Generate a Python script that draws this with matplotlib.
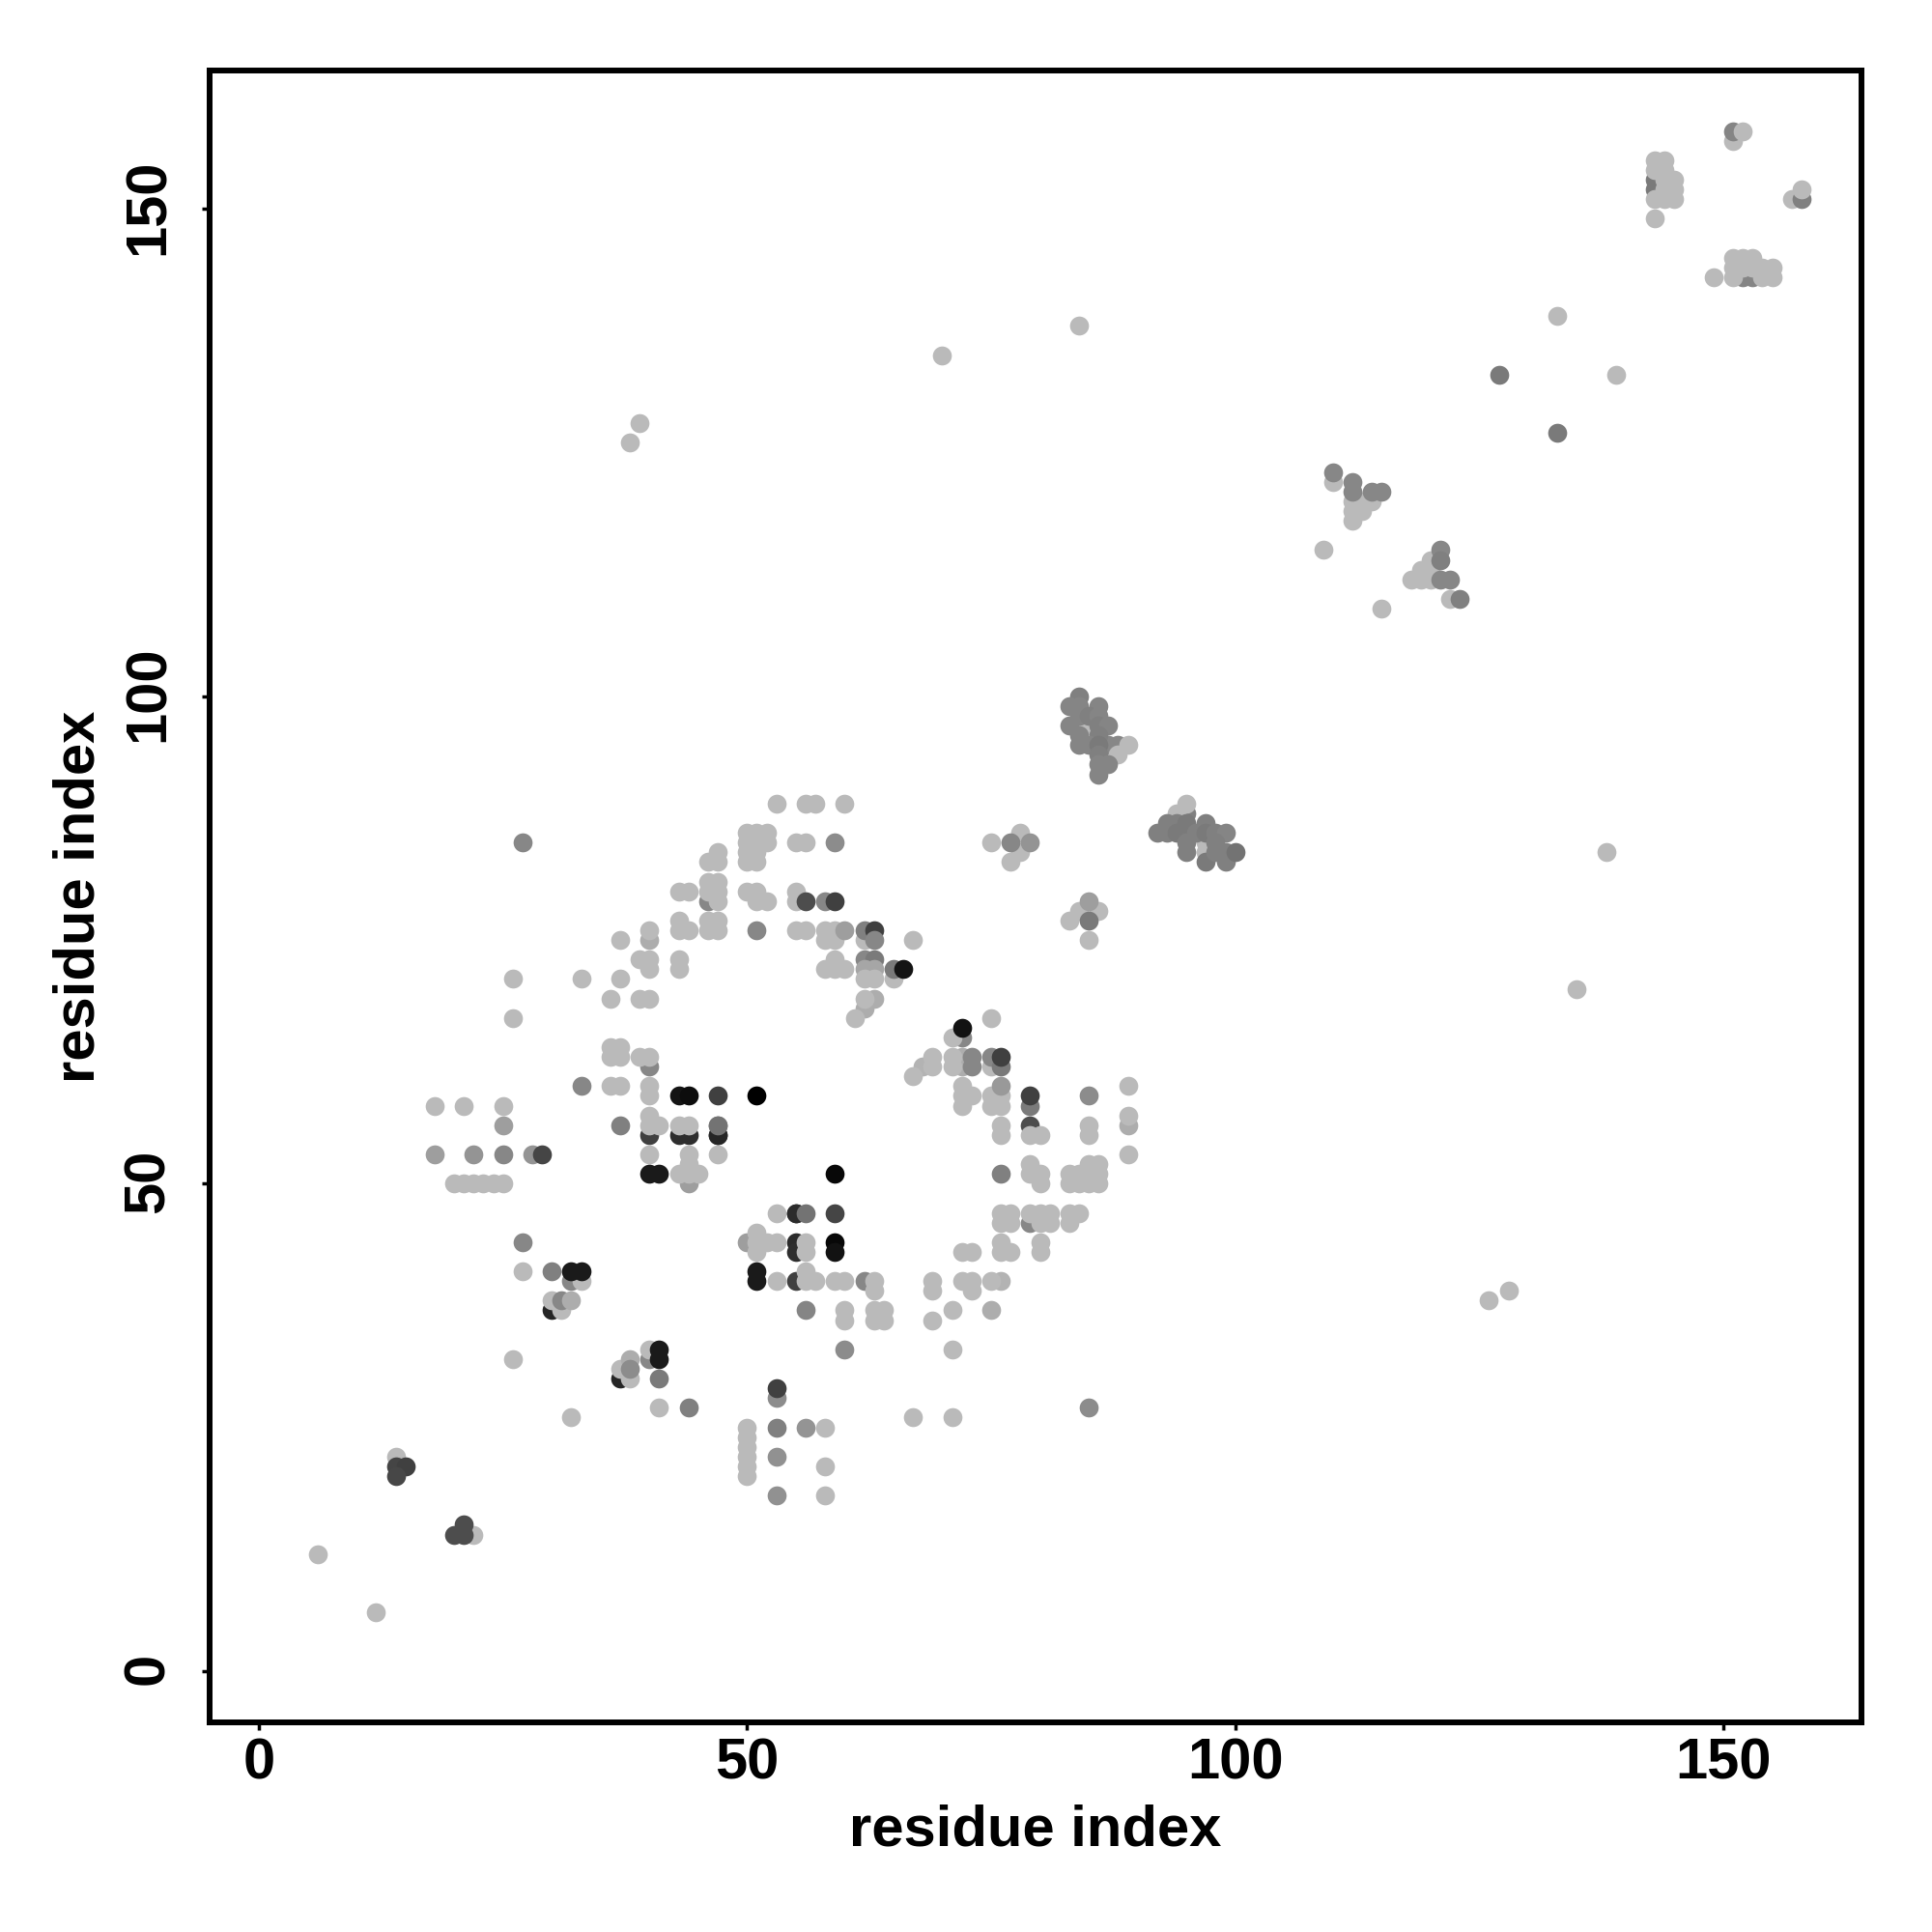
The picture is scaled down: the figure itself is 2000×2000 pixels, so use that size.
import matplotlib
matplotlib.use("Agg")
import matplotlib.pyplot as plt
from matplotlib.transforms import ScaledTranslation

LIGHT = 0.73
tick_values = [0, 50, 100, 150]
axis_label = "residue index"

# contacts drawn first: (residue i, residue j, grey level)
under_points = [
    (40,62,.53),(40,55,.25),(43,55,.18),(44,55,.18),(47,55,.15),(47,56,.45),(44,50,.62),
    (32,40,.53),(30,37,.15),(40,32,.53),(37,30,.15),(53,28,.55),(55,47,.17),
    (55,44,.17),(55,43,.18),(55,40,.25),(50,44,.62),(62,40,.53),(46,79,.53),(79,46,.53),
    (143,153,.48),(143,152,.48),(152,143,.52),(153,143,.52),
    (87,95,.53),(88,95,.53),(95,88,.5),(40,75,.68),(62,73,.53),(63,73,.48),
    (62,72,.65),(63,72,.65),(63,69,.68),(62,68,.68),(72,63,.68),(72,62,.68),
    (75,37,.68),(76,40,.7),(89,56,.68),(79,56,.3),(68,62,.7),(72,65,.53),
]

# the palest, most frequent contacts
light_points = [
    (18,58),(21,58),(25,58),(20,50),(21,50),(22,50),(23,50),(24,50),(25,50),
    (36,64),(37,64),(36,63),(37,63),(39,63),(40,63),(36,60),(37,60),(40,60),(40,59),
    (40,57),(40,56),(41,56),(43,56),(44,56),(40,53),(44,53),(47,53),
    (43,51),(44,52),(45,51),(44,51),(53,47),(51,45),(51,44),(52,44),(53,44),(51,43),
    (56,44),(56,43),(53,40),(56,41),(56,40),(57,40),(59,40),(60,40),(63,40),(63,39),
    (60,37),(60,36),(63,37),(64,37),(63,36),(64,36),(27,41),(33,40),(30,38),(31,37),
    (26,32),(40,33),(37,31),(38,30),(41,27),(32,26),(50,25),(50,24),(50,23),(50,22),(50,21),(50,20),
    (58,25),(58,21),(58,18),(14,22),(6,12),(12,6),(22,14),(26,67),(26,71),(61,67),
    (53,89),(56,89),(57,89),(60,89),(50,86),(51,86),(52,86),(50,85),(51,85),(52,85),
    (50,84),(51,84),(50,83),(51,83),(55,85),(56,85),(47,84),(46,83),(47,83),
    (43,80),(44,80),(46,81),(47,81),(46,80),(47,80),(47,79),(50,80),(51,80),(51,79),(52,79),
    (55,80),(55,79),(43,77),(43,76),(44,76),(46,77),(47,77),(46,76),(47,76),
    (55,76),(56,76),(58,76),(59,76),(58,75),(59,75),(62,75),(67,75),(37,75),(40,76),
    (39,73),(40,73),(40,72),(43,73),(43,72),(33,71),(36,69),(39,69),(40,69),
    (59,73),(58,72),(59,72),(60,72),(62,71),(63,71),(65,71),(62,69),(37,71),
    (71,65),(75,67),(67,61),(69,63),(69,62),(71,63),(71,62),(75,62),
    (72,60),(72,59),(73,59),(72,58),(75,59),(76,59),(75,58),(76,58),
    (89,60),(89,57),(89,53),(76,56),(76,55),(79,55),(80,55),(85,56),(85,55),
    (79,52),(79,51),(80,51),(80,50),(83,51),(84,51),(85,51),(86,51),(85,52),(86,52),
    (83,50),(84,50),(85,50),(86,50),(76,47),(77,47),(76,46),(77,46),(79,47),(80,47),(81,47),
    (80,46),(81,46),(83,47),(84,47),(83,46),(76,44),(76,43),(77,43),(80,44),(80,43),
    (72,43),(73,43),(69,40),(69,39),(72,40),(73,40),(73,39),(69,36),(71,33),(67,26),(71,26),
    (71,37),(75,40),(85,75),(75,85),(78,86),(78,84),(77,83),(83,77),(84,78),(86,78),
    (84,97),(85,97),(94,88),(97,85),(97,84),(95,89),(89,95),(88,94),
    (151,157),(143,155),(144,155),(143,154),(144,154),(144,153),(145,153),
    (144,152),(145,152),(143,151),(144,151),(145,151),(143,149),(149,143),
    (151,145),(152,145),(153,145),(151,144),(152,144),(153,144),(154,144),(155,144),
    (151,143),(154,143),(155,143),(157,151),
    (110,122),(112,120),(113,120),(114,120),(112,119),(113,119),(112,118),(109,115),(115,109),
    (120,114),(119,113),(120,113),(118,112),(119,112),(120,112),(122,110),
    (133,139),(139,133),(84,138),(70,135),(39,128),(38,126),(138,84),(135,70),(126,38),(128,39),
]

# contacts drawn last: (residue i, residue j, grey level)
top_points = [
    (25,56,.62),(18,53,.62),(22,53,.58),(25,53,.53),(28,53,.58),(29,53,.27),(33,60,.53),
    (43,59,.08),(44,59,.05),(47,59,.25),(51,59,.0),(37,56,.5),(47,55,.15),(47,56,.45),
    (40,51,.1),(41,51,.1),(59,51,.03),(55,47,.17),(56,47,.45),(59,47,.27),
    (59,44,.03),(59,43,.07),(51,41,.1),(51,40,.1),(56,37,.52),(60,33,.55),(27,44,.53),
    (30,41,.5),(32,41,.1),(33,41,.1),(31,38,.53),(32,38,.68),(41,33,.1),(41,32,.1),
    (38,32,.68),(38,31,.55),(41,30,.48),(44,27,.5),(53,29,.25),(53,25,.5),(56,25,.58),
    (53,22,.57),(53,18,.57),(14,21,.27),(15,21,.25),(14,20,.28),(20,14,.3),(21,14,.3),(21,15,.3),
    (59,85,.55),(56,79,.3),(58,79,.53),(59,79,.25),(51,76,.53),(60,76,.62),(62,76,.5),(63,76,.25),
    (63,75,.53),(65,72,.48),(66,72,.08),(72,66,.07),(73,63,.53),(73,62,.53),(75,63,.53),(76,62,.48),
    (76,63,.25),(76,60,.6),(79,58,.48),(79,59,.25),(85,59,.55),(76,51,.5),(85,27,.55),
    (27,85,.53),(77,85,.53),(79,85,.58),(85,79,.62),(85,77,.48),
    (84,100,.5),(83,99,.52),(84,99,.52),(86,99,.52),(83,97,.52),(84,98,.52),(85,98,.5),(86,98,.52),
    (86,97,.5),(87,97,.52),(84,96,.52),(86,96,.5),(84,95,.52),(85,95,.52),(86,95,.48),
    (86,94,.5),(86,93,.52),(87,93,.52),(86,92,.52),
    (92,86,.5),(93,87,.5),(93,86,.5),(94,87,.5),(94,86,.48),(95,87,.48),(95,86,.48),
    (95,85,.5),(95,84,.5),(96,86,.5),(97,87,.5),(97,86,.48),(97,83,.48),(98,86,.5),
    (99,86,.52),(98,85,.5),(98,84,.5),(99,84,.5),(99,83,.5),(100,84,.45),
    (110,123,.53),(112,122,.53),(112,121,.53),(114,121,.53),(115,121,.53),
    (121,115,.53),(121,114,.5),(121,112,.53),(122,112,.53),(123,110,.5),
    (127,133,.48),(133,127,.48),
    (151,158,.52),(152,158,.73),(158,151,.5),(158,152,.73),
]

plt.rcParams["font.family"] = ["Liberation Sans", "DejaVu Sans"]
fig = plt.figure(figsize=(20, 20), dpi=100)
ax = fig.add_axes([217 / 2000, 1 - 1783 / 2000, 1710 / 2000, 1710 / 2000])

MARKER_AREA = 200
for layer in (under_points, [(x, y, LIGHT) for x, y in light_points], top_points):
    for x, y, g in layer:
        ax.scatter([x], [y], s=MARKER_AREA, color=str(g), linewidths=0, zorder=3)

ax.set_xlim(-5.05, 164.15)
ax.set_ylim(-5.27, 164.2)
ax.set_xticks(tick_values)
ax.set_yticks(tick_values)
ax.tick_params(axis="x", length=6, width=2.5, labelsize=43, pad=5)
ax.tick_params(axis="y", length=6, width=2.5, labelsize=43, pad=19.5)
shift_up = ScaledTranslation(0, 2.5 / 100, fig.dpi_scale_trans)
for lab in ax.get_xticklabels():
    lab.set_fontweight("bold")
for lab in ax.get_yticklabels():
    lab.set_fontweight("bold")
    lab.set_rotation(90)
    lab.set_va("center")
    lab.set_transform(lab.get_transform() + shift_up)
for s in ax.spines.values():
    s.set_linewidth(4.3)
ax.set_xlabel(axis_label, fontsize=43, fontweight="bold", labelpad=10)
ax.set_ylabel(axis_label, fontsize=43, fontweight="bold", labelpad=12)
fig.savefig("out.png", dpi=100, facecolor="white")
